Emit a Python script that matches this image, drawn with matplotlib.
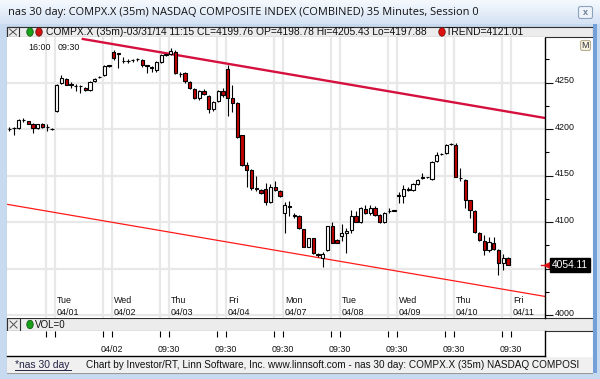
import matplotlib
matplotlib.use("Agg")
import matplotlib.pyplot as plt
import matplotlib.transforms as mtransforms
from matplotlib.colors import LinearSegmentedColormap
from matplotlib.patches import Rectangle, Ellipse, FancyBboxPatch
from matplotlib.ticker import MultipleLocator
import numpy as np

plt.rcParams["font.family"] = ["Liberation Sans", "DejaVu Sans"]

# 35 minute bars, 12 per session; bar index 0 = 04/01 09:30
first_bar = -10
bars_per_day = 12

opens = [
    # 03/31
    4200, 4201, 4201, 4210, 4208.5, 4206, 4201, 4206, 4202, 4200.5,
    # 04/01
    4219, 4250, 4254, 4248, 4246, 4246, 4244, 4242, 4252, 4256, 4258, 4268,
    # 04/02
    4283, 4281, 4273, 4273, 4274, 4275, 4274, 4268.5, 4266, 4264, 4272, 4280,
    # 04/03
    4281, 4283.5, 4259, 4260, 4251, 4243, 4233.5, 4241.5, 4236, 4222, 4230, 4240.5,
    # 04/04
    4264.5, 4233, 4228, 4193.5, 4161, 4156, 4136, 4135, 4136, 4122, 4138, 4133,
    # 04/07
    4110, 4117, 4107.5, 4107, 4092.5, 4073.5, 4082.5, 4066, 4061, 4070.5, 4095.5, 4081,
    # 04/08
    4085, 4088, 4091, 4107, 4100.5, 4114, 4110, 4115.5, 4108, 4100, 4111.5, 4112,
    # 04/09
    4128.5, 4128, 4136, 4134, 4141, 4147.5, 4148, 4146, 4165.5, 4173, 4174, 4184,
    # 04/10
    4183, 4147.5, 4145, 4123.5, 4112, 4088, 4080, 4070, 4077.5, 4070, 4056, 4061,
]
highs = [
    4202, 4202, 4211, 4212, 4209, 4207, 4206, 4207, 4206, 4201,
    4249, 4258, 4255, 4251, 4249, 4248, 4245, 4252, 4255, 4257, 4268.5, 4269,
    4285, 4282, 4278, 4275, 4276, 4277, 4275, 4269, 4268, 4273, 4280.5, 4281,
    4287, 4285, 4262, 4261, 4252, 4244, 4242.5, 4243, 4237, 4230, 4242, 4244,
    4269, 4247, 4229, 4194, 4165, 4157, 4150, 4136, 4142, 4141, 4144, 4134,
    4122, 4123, 4110, 4108, 4093, 4083, 4083, 4067, 4068, 4096, 4100, 4082,
    4098, 4094, 4113, 4112, 4116, 4118, 4118, 4117, 4109, 4111, 4115, 4113,
    4132.5, 4140, 4138, 4142, 4146, 4153, 4149, 4165.5, 4175, 4174, 4184, 4185,
    4185, 4158, 4146, 4124, 4113, 4089, 4086, 4084, 4084, 4071, 4066, 4062,
]
lows = [
    4198, 4194, 4200, 4208, 4205, 4196, 4200, 4201, 4198, 4199.5,
    4218, 4249, 4247, 4244, 4241, 4239, 4241, 4241, 4251, 4255, 4257, 4267,
    4274.5, 4266, 4271, 4271, 4272, 4273, 4267, 4260, 4262, 4262, 4271, 4279,
    4280, 4259, 4256, 4250, 4243, 4232, 4231, 4237, 4217, 4220, 4229, 4235,
    4214, 4218, 4190, 4160, 4138, 4134, 4133, 4130, 4118, 4120, 4133, 4127,
    4088, 4107, 4104, 4093, 4073, 4073, 4066, 4062.5, 4052, 4069, 4077, 4077,
    4080, 4067, 4088, 4100, 4099, 4109, 4108, 4107, 4099, 4099, 4110, 4111.5,
    4121, 4120, 4133, 4133, 4140, 4146, 4147, 4145, 4165, 4172, 4173, 4183,
    4148, 4144, 4115, 4104, 4088, 4080, 4064.5, 4068, 4070, 4043, 4048, 4054,
]
closes = [
    4200.5, 4201, 4210, 4210, 4206, 4201, 4205, 4202, 4202, 4200,
    4248, 4255, 4248, 4248.5, 4246, 4246, 4242, 4251, 4254, 4256.5, 4268, 4268.5,
    4276.5, 4281.5, 4273.5, 4273.5, 4274.5, 4275, 4268.5, 4268, 4266.5, 4272, 4280, 4280.5,
    4284, 4260, 4259.5, 4251.5, 4244, 4233.5, 4241.5, 4238, 4222, 4229, 4240.5, 4237,
    4234, 4228, 4191.5, 4161, 4156, 4137, 4136.5, 4131.5, 4122, 4138, 4135, 4128,
    4118, 4116, 4107, 4093.5, 4073.5, 4082.5, 4067, 4065, 4066, 4095.5, 4077.5, 4077.5,
    4088, 4090, 4107, 4100.5, 4115, 4110, 4115.5, 4108, 4100, 4110, 4112, 4112.5,
    4129, 4136, 4134.5, 4141, 4145, 4148, 4148.5, 4164.5, 4172, 4173.5, 4183, 4184.5,
    4149, 4147, 4124, 4113, 4089.5, 4081, 4070, 4079, 4071.5, 4056, 4061, 4054.11,
]

day_names = ["Tue", "Wed", "Thu", "Fri", "Mon", "Tue", "Wed", "Thu", "Fri"]
day_dates = ["04/01", "04/02", "04/03", "04/04", "04/07", "04/08", "04/09", "04/10", "04/11"]
vol_labels = ["", "04/02", "09:30", "09:30", "09:30", "09:30", "09:30", "09:30", "09:30"]

price_ticks = [4000, 4050, 4100, 4150, 4200, 4250]
price_labels = ["4000", "", "4100", "4150", "4200", "4250"]  # 4050 sits under the last-price tag
last_price = 4054.11

# trend lines: (bar index, price) end points
upper_trend_x = [5.5, 102.8]
upper_trend_y = [4297, 4212]
lower_trend_x = [-10.3, 102.8]
lower_trend_y = [4119, 4020]

title = "nas 30 day: COMPX.X (35m) NASDAQ COMPOSITE INDEX (COMBINED) 35 Minutes, Session 0"
header = "COMPX.X (35m)-03/31/14 11:15 CL=4199.76 OP=4198.78 Hi=4205.43 Lo=4197.88"
trend_text = "TREND=4121.01"
footer = ("Chart by Investor/RT, Linn Software, Inc. www.linnsoft.com - nas 30 day: "
          "COMPX.X (35m) NASDAQ COMPOSI")

W, H = 600, 379
fig = plt.figure(figsize=(6.0, 3.79), dpi=100)
fig.patch.set_facecolor("#c8daef")


def px_axes(x0, y0, x1, y1, **kw):
    return fig.add_axes([x0 / W, 1 - y1 / H, (x1 - x0) / W, (y1 - y0) / H], **kw)


# window chrome, pixel coords
bg = px_axes(0, 0, W, H)
grad = np.linspace(0, 1, 30)[:, None]
bg.imshow(grad, extent=(0, W, 24, 0), aspect="auto", zorder=0,
          cmap=LinearSegmentedColormap.from_list("t", ["#f5f9fe", "#d5e3f4"]))
bg.set_xlim(0, W)
bg.set_ylim(H, 0)
bg.axis("off")
bg.text(8, 12, title, fontsize=7.9, va="center", family=["Open Sans", "DejaVu Sans"], color="#111111")
bg.add_patch(FancyBboxPatch((578.5, 6.5), 14, 12, boxstyle="round,pad=0,rounding_size=2",
                            fc="#eef3f9", ec="#8ea3bd", lw=0.8))
bg.text(585.5, 12.5, "x", fontsize=6.5, ha="center", va="center", color="#6a7a90", weight="bold")

bg.add_patch(Rectangle((6.5, 26.5), 586, 346, fc="white", ec="#9a9a9a", lw=0.8))
# top header strip
bg.add_patch(Rectangle((7, 26.7), 585.5, 10.6, fc="#ececec", ec="#303030", lw=0.8))
bg.add_patch(Rectangle((7, 26.7), 12, 10.6, fc="none", ec="#303030", lw=0.8))
bg.plot([9.5, 16.5], [29, 35], color="#505050", lw=0.7)
bg.plot([9.5, 16.5], [35, 29], color="#505050", lw=0.7)
bg.add_patch(Ellipse((30, 32), 6.5, 8.5, fc="#19a019", ec="#0b4d0b", lw=0.5))
bg.add_patch(Ellipse((39, 32), 6.5, 8.5, fc="#d21212", ec="#5a0a0a", lw=0.5))
bg.text(46, 32.3, header, fontsize=7.4, va="center", color="#111111")
bg.add_patch(Ellipse((442, 32), 6.5, 8.5, fc="#e01010", ec="#6a0a0a", lw=0.5))
bg.text(446, 32.3, trend_text, fontsize=7.4, va="center", color="#111111")
bg.add_patch(FancyBboxPatch((580.5, 40.5), 10, 10, boxstyle="round,pad=0,rounding_size=2",
                            fc="#f6f1e2", ec="#b9ae90", lw=0.8))
bg.text(585.5, 46, "M", fontsize=6.5, ha="center", va="center", color="#333333")
# volume header strip
bg.add_patch(Rectangle((7, 318), 585.5, 13, fc="#ececec", ec="#303030", lw=0.8))
bg.add_patch(Rectangle((7, 318), 13, 13, fc="none", ec="#303030", lw=0.8))
bg.plot([10, 17], [321, 328], color="#505050", lw=0.7)
bg.plot([10, 17], [328, 321], color="#505050", lw=0.7)
bg.add_patch(Ellipse((30, 324.5), 6.5, 8.5, fc="#19a019", ec="#0b4d0b", lw=0.5))
bg.text(35, 325, "VOL=0", fontsize=7, va="center", color="#111111")
# footer
bg.add_patch(Rectangle((7, 356.5), 585.5, 16, fc="#f0f0f0", ec="none"))
bg.text(15, 364.5, "*nas 30 day", fontsize=7.4, va="center", color="#222244")
bg.plot([15, 71], [369.5, 369.5], color="#222244", lw=0.7)
bg.text(86, 364.5, footer, fontsize=7.2, va="center", color="#111111")
bg.add_patch(Rectangle((592.5, 24), 8, 355, fc="#c8daef", ec="none", zorder=10))
bg.add_patch(Rectangle((593, 24), 3.5, 349, fc="#73a0d8", ec="none", zorder=11))

# main price pane
ax = px_axes(7, 37.5, 545, 318)
ax.set_facecolor("white")
x_left, x_right = -10.46, 102.8
ax.set_xlim(x_left, x_right)
ax.set_ylim(3996.8, 4298.6)

days = np.arange(len(day_dates))
open_lines = days * bars_per_day - 0.4
close_lines = open_lines - 1.9
ax.set_xticks(np.sort(np.concatenate([open_lines, close_lines])))
ax.tick_params(axis="x", length=0, labelbottom=False)
ax.set_yticks(price_ticks, price_labels)
ax.yaxis.set_minor_locator(MultipleLocator(25))
ax.yaxis.tick_right()
ax.tick_params(axis="y", which="major", length=5.8, width=0.8, pad=1, labelsize=6.4, colors="#111111")
ax.tick_params(axis="y", which="minor", length=3, width=0.8)
for lab in ax.get_yticklabels():
    lab.set_transform(lab.get_transform() + mtransforms.ScaledTranslation(0, 0.03, fig.dpi_scale_trans))
ax.grid(True, which="major", color="#e8e8e8", lw=1.6)
ax.set_axisbelow(True)
for s in ["left", "top", "bottom"]:
    ax.spines[s].set_visible(False)
ax.spines["right"].set_color("black")
ax.spines["right"].set_linewidth(1)

ax.plot(lower_trend_x, lower_trend_y, color="#ff1a1a", lw=0.9, zorder=2)
ax.plot(upper_trend_x, upper_trend_y, color="#d5103f", lw=1.7, zorder=2)

o = np.array(opens)
h = np.array(highs)
l = np.array(lows)
c = np.array(closes)
x = np.arange(len(o)) + first_bar
up = c >= o
bottom = np.minimum(o, c)
height = np.maximum(np.abs(c - o), 0.05)
ax.vlines(x, l, h, color="black", lw=0.8, zorder=3)
ax.bar(x[up], height[up], bottom=bottom[up], width=0.68, color="white",
       edgecolor="black", lw=0.8, zorder=4)
ax.bar(x[~up], height[~up], bottom=bottom[~up], width=0.68, color="#c00000",
       edgecolor="black", lw=0.8, zorder=4)

tx = ax.get_xaxis_transform()
ax.text(-6.0, 0.966, "16:00", transform=tx, fontsize=6.4, va="center", color="#111111")
ax.text(open_lines[0] + 0.6, 0.966, "09:30", transform=tx, fontsize=6.4, va="center", color="#111111")
for d in days:
    ax.text(open_lines[d] + 0.45, 0.062, day_names[d], transform=tx, fontsize=6.4,
            va="center", color="#111111")
    ax.text(open_lines[d] + 0.45, 0.021, day_dates[d], transform=tx, fontsize=6.4,
            va="center", color="#111111")

# last price tag
ty = mtransforms.blended_transform_factory(ax.transAxes, ax.transData)
ax.plot([0.993, 1.0], [last_price, last_price], color="#e01010", lw=1, transform=ty, clip_on=False, zorder=5)
ax.plot([1.0045], [last_price], marker="<", ms=5, color="#e01010", transform=ty, clip_on=False, zorder=5)
ax.text(1.0125, last_price, f"{last_price:.2f}", transform=ty, fontsize=7.4, va="center", ha="left",
        color="white", clip_on=False, zorder=6,
        bbox=dict(boxstyle="square,pad=0.18", fc="black", ec="black"))

# volume pane
vax = px_axes(7, 331, 545, 356)
vax.set_facecolor("white")
vax.set_xlim(x_left, x_right)
vax.set_ylim(0, 1)
vax.set_xticks(np.sort(np.concatenate([open_lines, close_lines])))
vax.set_yticks([])
vax.tick_params(axis="x", top=True, bottom=False, direction="in", length=4.5, width=0.8,
                labeltop=False, labelbottom=False)
for s in ["left", "top"]:
    vax.spines[s].set_visible(False)
vax.spines["right"].set_linewidth(1)
vax.spines["bottom"].set_linewidth(1)
for d in days:
    vax.text(open_lines[d], 0.28, vol_labels[d], fontsize=6.4, ha="center", va="center", color="#111111")

fig.savefig("out.png", dpi=100, facecolor=fig.get_facecolor())
